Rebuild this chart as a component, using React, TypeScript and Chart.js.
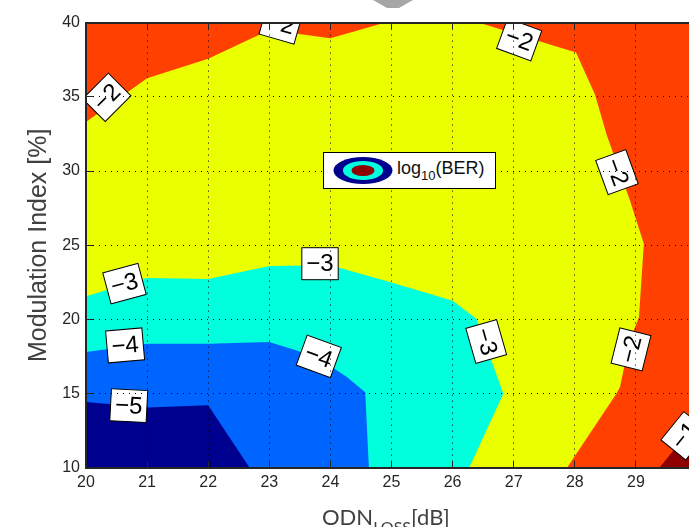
import React, { useEffect, useRef } from 'react';
import { Chart, registerables } from 'chart.js';

Chart.register(...registerables);

// ---------- axes ----------
const X_MIN = 20;
const X_MAX = 30;
const Y_MIN = 10;
const Y_MAX = 40;
const xTickValues = [20, 21, 22, 23, 24, 25, 26, 27, 28, 29];
const yTickValues = [10, 15, 20, 25, 30, 35, 40];
const yAxisTitle = 'Modulation Index [%]';

// ---------- filled contour regions (x = ODN loss [dB], y = modulation index [%]) ----------
// log10(BER) between -2 and -1 (background)
const regionM2toM1: number[][] = [[20, 10], [20, 40], [30, 40], [30, 10], [20, 10]];
// log10(BER) between -3 and -2
const regionM3toM2: number[][] = [
  [20, 10], [20, 33.3], [21, 36.26], [22, 37.56], [23, 39.5], [24, 38.95], [24.9, 40],
  [26.42, 40], [28.02, 37.99], [28.33, 35.15], [28.52, 32.46], [28.9, 28.05], [29.13, 25.1],
  [29.05, 20.15], [28.9, 18.6], [28.74, 15.46], [28.68, 15.0], [27.87, 10], [20, 10],
];
// log10(BER) between -4 and -3
const regionM4toM3: number[][] = [
  [20, 10], [20, 21.57], [21, 22.8], [22, 22.73], [23, 23.6], [24, 23.65], [25, 22.5],
  [26, 21.27], [26.39, 20.05], [26.83, 15.0], [26.27, 10], [20, 10],
];
// log10(BER) between -5 and -4
const regionM5toM4: number[][] = [
  [20, 10], [20, 17.81], [21, 18.37], [22, 18.37], [23, 18.48], [23.45, 17.92], [23.86, 17.25],
  [24.27, 16.13], [24.57, 15.1], [24.63, 10], [20, 10],
];
// log10(BER) below -5
const regionBelowM5: number[][] = [[20, 10], [20, 14.45], [21, 14.07], [22, 14.23], [22.68, 10], [20, 10]];
// log10(BER) above -1
const regionAboveM1: number[][] = [[29.38, 10], [29.64, 11.32], [30, 13.1], [30, 10], [29.38, 10]];

const regions = [regionM2toM1, regionM3toM2, regionM4toM3, regionM5toM4, regionBelowM5, regionAboveM1];
const regionColors = ['#FF4000', '#EAFF00', '#00FFDC', '#0064FF', '#00008F', '#8F0000'];

// ---------- contour labels ----------
const labelText = ['−2', '−2', '−2', '−2', '−2', '−3', '−3', '−3', '−4', '−4', '−5', '−1'];
const labelX = [20.34, 23.19, 27.09, 28.69, 28.92, 20.63, 23.83, 26.55, 20.64, 23.81, 20.70, 29.80];
const labelY = [34.97, 39.93, 38.86, 29.93, 17.99, 22.42, 23.76, 18.52, 18.26, 17.52, 14.2, 12.17];
const labelAngle = [-45, 16, 20, 70, -76, -15, 0, 74, -5, 20, 3, -51];

const FONT = '"Liberation Sans", Arial, Helvetica, sans-serif';

const contourLabelPlugin = {
  id: 'contourLabels',
  afterDatasetsDraw(chart: any) {
    const { ctx, chartArea, scales } = chart;
    const xs = scales.x;
    const ys = scales.y;
    ctx.save();
    ctx.beginPath();
    ctx.rect(chartArea.left, chartArea.top, chartArea.right - chartArea.left, chartArea.bottom - chartArea.top);
    ctx.clip();
    ctx.font = `24px ${FONT}`;
    ctx.textAlign = 'center';
    ctx.textBaseline = 'middle';
    for (let i = 0; i < labelText.length; i++) {
      const px = xs.getPixelForValue(labelX[i]);
      const py = ys.getPixelForValue(labelY[i]);
      ctx.save();
      ctx.translate(px, py);
      ctx.rotate((labelAngle[i] * Math.PI) / 180);
      const w = ctx.measureText(labelText[i]).width + 9;
      const h = 32;
      ctx.fillStyle = '#ffffff';
      ctx.fillRect(-w / 2, -h / 2, w, h);
      ctx.strokeStyle = '#000000';
      ctx.lineWidth = 1;
      ctx.strokeRect(-w / 2, -h / 2, w, h);
      ctx.fillStyle = '#000000';
      ctx.fillText(labelText[i], 0, 1);
      ctx.restore();
    }
    ctx.restore();
  },
};

export default function App() {
  const ref = useRef<HTMLCanvasElement>(null);

  useEffect(() => {
    if (!ref.current) return;
    const datasets = regions.map((pts, i) => ({
      label: `region${i}`,
      data: pts.map(([x, y]) => ({ x, y })),
      backgroundColor: regionColors[i],
      borderColor: 'rgba(0,0,0,0)',
      borderWidth: 0,
      pointRadius: 0,
      pointHoverRadius: 0,
      fill: 'shape',
      tension: 0,
      order: regions.length - i,
      xAxisID: 'x',
      yAxisID: 'y',
    }));

    const chart = new Chart(ref.current, {
      type: 'line',
      data: { datasets } as any,
      plugins: [contourLabelPlugin],
      options: {
        responsive: false,
        maintainAspectRatio: false,
        animation: false,
        events: [],
        layout: { padding: { left: 0, top: 21, right: 23, bottom: 0 } },
        plugins: { legend: { display: false }, tooltip: { enabled: false } },
        scales: {
          x: {
            type: 'linear',
            position: 'bottom',
            min: X_MIN,
            max: X_MAX,
            afterBuildTicks: (s: any) => { s.ticks = xTickValues.map((value) => ({ value })); },
            afterFit: (s: any) => { s.height = 59; },
            ticks: { z: 2, padding: 12, color: '#262626', font: { family: FONT, size: 16 }, maxRotation: 0, autoSkip: false },
            grid: { z: 1, color: '#000000', lineWidth: 1, drawTicks: true, tickLength: -7, tickColor: '#262626', tickWidth: 1 },
            border: { z: 2, display: true, color: '#262626', width: 2, dash: [1, 5] },
          },
          x2: {
            type: 'linear',
            position: 'top',
            min: X_MIN,
            max: X_MAX,
            afterBuildTicks: (s: any) => { s.ticks = xTickValues.map((value) => ({ value })); },
            afterFit: (s: any) => { s.height = 0; },
            ticks: { display: false },
            grid: { z: 1, drawOnChartArea: false, drawTicks: true, tickLength: -7, tickColor: '#262626', tickWidth: 1 },
            border: { z: 2, display: true, color: '#262626', width: 2 },
          },
          y: {
            type: 'linear',
            position: 'left',
            min: Y_MIN,
            max: Y_MAX,
            afterBuildTicks: (s: any) => { s.ticks = yTickValues.map((value) => ({ value })); },
            afterFit: (s: any) => { s.width = 86; },
            ticks: { z: 2, padding: 13, color: '#262626', font: { family: FONT, size: 16 } },
            grid: { z: 1, color: '#000000', lineWidth: 1, drawTicks: true, tickLength: -7, tickColor: '#262626', tickWidth: 1 },
            border: { z: 2, display: true, color: '#262626', width: 2, dash: [1, 5] },
            title: {
              display: true,
              text: yAxisTitle,
              color: '#404040',
              font: { family: FONT, size: 25 },
              padding: { top: 24, bottom: 0 },
            },
          },
        },
      } as any,
    });
    return () => chart.destroy();
  }, []);

  return (
    <div style={{ position: 'fixed', left: 0, top: 0, width: 689, height: 527, overflow: 'hidden', background: '#fff' }}>
      <canvas ref={ref} width={720} height={527} style={{ position: 'absolute', left: 0, top: 0, width: 720, height: 527 }} />
      {/* tip of the arrow above the figure */}
      <div
        style={{
          position: 'absolute', left: 373, top: 0, width: 40, height: 8, background: '#A6A6A6',
          clipPath: 'polygon(0 0, 100% 0, 65% 100%, 35% 100%)',
        }}
      />
      {/* legend */}
      <div
        style={{
          position: 'absolute', left: 323, top: 152, width: 173, height: 37, boxSizing: 'border-box',
          border: '1px solid #000', background: '#fff',
        }}
      >
        <svg style={{ position: 'absolute', left: 8, top: 3 }} width={62} height={30}>
          <ellipse cx={31} cy={14.5} rx={29.5} ry={13.5} fill="#00008F" />
          <ellipse cx={31} cy={14.5} rx={20} ry={9.5} fill="#00FFDC" />
          <ellipse cx={31} cy={14.5} rx={11.5} ry={5.5} fill="#8F0000" />
        </svg>
        <div
          style={{
            position: 'absolute', left: 73, top: 6, fontFamily: FONT, fontSize: 18, lineHeight: '18px',
            color: '#111', whiteSpace: 'nowrap',
          }}
        >
          log<span style={{ fontSize: 13, position: 'relative', top: 6 }}>10</span>(BER)
        </div>
      </div>
      {/* x-axis title */}
      <div
        style={{
          position: 'absolute', left: 322, top: 505, fontFamily: 'Lato, "Open Sans", sans-serif', fontSize: 22,
          lineHeight: '24px', color: '#404040', whiteSpace: 'nowrap',
        }}
      >
        ODN<span style={{ fontSize: 16, position: 'relative', top: 8 }}>LOSS</span>[dB]
      </div>
    </div>
  );
}
